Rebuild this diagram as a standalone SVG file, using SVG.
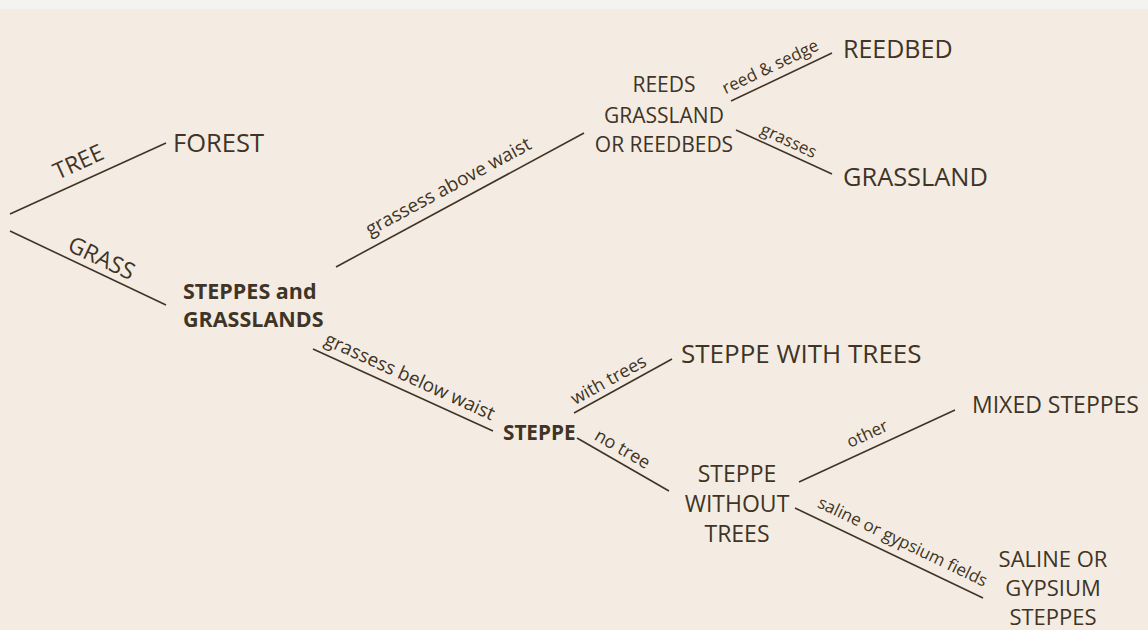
<svg xmlns="http://www.w3.org/2000/svg" width="1148" height="630" viewBox="0 0 1148 630">
<style>
  .bg { fill: #f4ece2; }
  .band { fill: #f3f3ef; }
  .edge { stroke: #3f3426; stroke-width: 1.6; fill: none; stroke-linecap: butt; }
  .node { font-family: "Open Sans", "Noto Sans", sans-serif; fill: #3f3426; }
  .mid { text-anchor: middle; }
  .bold { font-weight: bold; }
  .lbl { font-family: "Open Sans", "Noto Sans", sans-serif; fill: #3f3426; text-anchor: middle; dominant-baseline: central; }
</style>
<rect class="bg" x="0" y="0" width="1148" height="630"/>
<rect class="band" x="0" y="0" width="1148" height="9"/>

<g id="connectors">
  <line class="edge" x1="10" y1="214" x2="166" y2="143"/>
  <line class="edge" x1="10" y1="231" x2="166" y2="305"/>
  <line class="edge" x1="336" y1="267" x2="584" y2="133"/>
  <line class="edge" x1="313" y1="349" x2="493" y2="431"/>
  <line class="edge" x1="731" y1="101" x2="832" y2="53"/>
  <line class="edge" x1="736" y1="130" x2="832" y2="174"/>
  <line class="edge" x1="574" y1="413" x2="672" y2="359"/>
  <line class="edge" x1="577" y1="438" x2="669" y2="491"/>
  <line class="edge" x1="799" y1="482" x2="955" y2="410"/>
  <line class="edge" x1="795" y1="508" x2="983" y2="598"/>

  <text class="lbl" font-size="23" transform="translate(78,161) rotate(-24.5)">TREE</text>
  <text class="lbl" font-size="23" transform="translate(102,257) rotate(25.4)">GRASS</text>
  <text class="lbl" font-size="19" transform="translate(448,186) rotate(-28.4)">grassess above waist</text>
  <text class="lbl" font-size="19" transform="translate(410,376) rotate(24.5)">grassess below waist</text>
  <text class="lbl" font-size="17" transform="translate(770,66) rotate(-25.4)">reed &amp; sedge</text>
  <text class="lbl" font-size="17" transform="translate(789,140) rotate(24.6)">grasses</text>
  <text class="lbl" font-size="18" transform="translate(608,379) rotate(-28.9)">with trees</text>
  <text class="lbl" font-size="18" transform="translate(623,448) rotate(30)">no tree</text>
  <text class="lbl" font-size="17" transform="translate(867,433) rotate(-24.8)">other</text>
  <text class="lbl" font-size="17" transform="translate(903,541) rotate(25.6)">saline or gypsium fields</text>
</g>

<g id="node-forest"><text class="node" font-size="25.5" x="173" y="152">FOREST</text></g>
<g id="node-steppes-grasslands">
  <text class="node bold" font-size="21.5" x="183" y="299">STEPPES and</text>
  <text class="node bold" font-size="21.5" x="183" y="327">GRASSLANDS</text>
</g>
<g id="node-reeds">
  <text class="node mid" font-size="21" x="664" y="92">REEDS</text>
  <text class="node mid" font-size="21" x="664" y="123">GRASSLAND</text>
  <text class="node mid" font-size="21" x="664" y="152">OR REEDBEDS</text>
</g>
<g id="node-reedbed"><text class="node" font-size="25" x="843" y="58">REEDBED</text></g>
<g id="node-grassland"><text class="node" font-size="25.4" x="843" y="186">GRASSLAND</text></g>
<g id="node-steppe"><text class="node bold" font-size="20.7" x="503" y="440">STEPPE</text></g>
<g id="node-steppe-with-trees"><text class="node" font-size="26" x="681" y="363">STEPPE WITH TREES</text></g>
<g id="node-steppe-without-trees">
  <text class="node mid" font-size="23" x="737" y="482">STEPPE</text>
  <text class="node mid" font-size="23" x="737" y="512">WITHOUT</text>
  <text class="node mid" font-size="23" x="737" y="542">TREES</text>
</g>
<g id="node-mixed-steppes"><text class="node" font-size="23" x="972" y="413">MIXED STEPPES</text></g>
<g id="node-saline">
  <text class="node mid" font-size="22" x="1053" y="567">SALINE OR</text>
  <text class="node mid" font-size="22" x="1053" y="596">GYPSIUM</text>
  <text class="node mid" font-size="22" x="1053" y="625">STEPPES</text>
</g>
</svg>
